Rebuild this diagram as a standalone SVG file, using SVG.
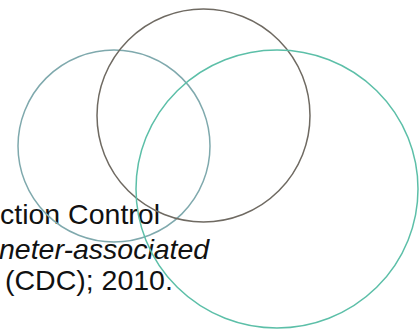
<svg xmlns="http://www.w3.org/2000/svg" width="420" height="332" viewBox="0 0 420 332">
<style>
.c{fill:none;stroke-width:1.5}
.t{font-family:"Liberation Sans",Arial,sans-serif;font-size:28.5px;fill:#111}
</style>
<rect width="420" height="332" fill="#fff"/>
<text class="t" x="0" y="224">ction Control</text>
<text class="t" x="-1" y="259" font-style="italic">neter-associated</text>
<text class="t" x="5" y="290">(CDC); 2010.</text>
<g id="circle-left"><circle class="c" cx="114" cy="146" r="96" stroke="#7fa9ad"/></g>
<g id="circle-top"><circle class="c" cx="203.5" cy="115.5" r="106.5" stroke="#6f6a62"/></g>
<g id="circle-right"><ellipse class="c" cx="277" cy="189" rx="141" ry="139" stroke="#5cbfa8"/></g>
</svg>
